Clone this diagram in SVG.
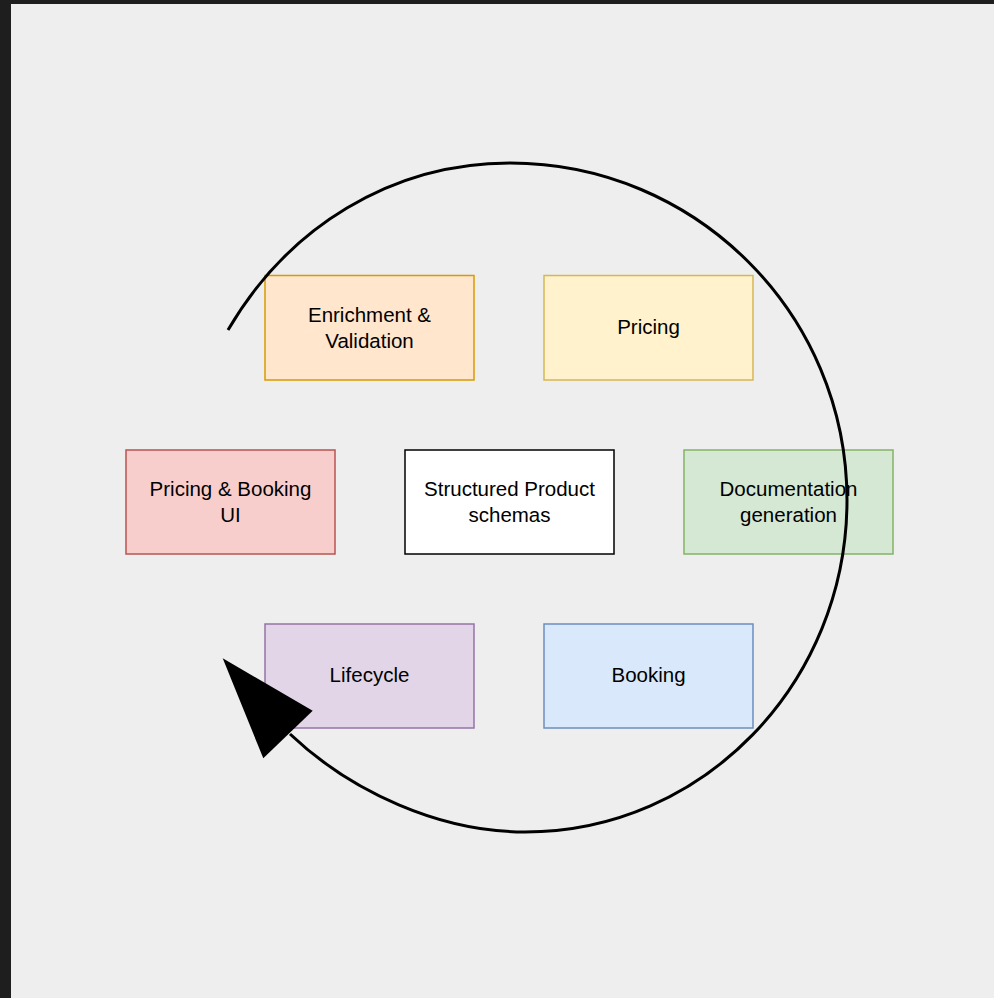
<svg xmlns="http://www.w3.org/2000/svg" width="994" height="998" viewBox="0 0 994 998">
<style>
.box{stroke-width:1.5}
.lbl{font-family:"Liberation Sans",Arial,Helvetica,sans-serif;font-size:20.5px;fill:#000;text-anchor:middle}
</style>
<rect x="0" y="0" width="994" height="998" fill="#1e1e1e"/>
<rect x="11" y="4" width="983" height="994" fill="#eeeeee"/>
<g id="enrichment"><rect class="box" x="265" y="275.5" width="209" height="104.5" fill="#ffe6cc" stroke="#d79b00"/><text class="lbl" x="369.5" y="322">Enrichment &amp;</text><text class="lbl" x="369.5" y="348">Validation</text></g>
<g id="pricing"><rect class="box" x="544" y="275.5" width="209" height="104.5" fill="#fff2cc" stroke="#d6b656"/><text class="lbl" x="648.5" y="334">Pricing</text></g>
<g id="ui"><rect class="box" x="126" y="450" width="209" height="104" fill="#f8cecc" stroke="#b85450"/><text class="lbl" x="230.5" y="496">Pricing &amp; Booking</text><text class="lbl" x="230.5" y="522">UI</text></g>
<g id="schemas"><rect class="box" x="405" y="450" width="209" height="104" fill="#ffffff" stroke="#000000"/><text class="lbl" x="509.5" y="496">Structured Product</text><text class="lbl" x="509.5" y="522">schemas</text></g>
<g id="docs"><rect class="box" x="684" y="450" width="209" height="104" fill="#d5e8d4" stroke="#82b366"/><text class="lbl" x="788.5" y="496">Documentation</text><text class="lbl" x="788.5" y="522">generation</text></g>
<g id="lifecycle"><rect class="box" x="265" y="624" width="209" height="104" fill="#e1d5e7" stroke="#9673a6"/><text class="lbl" x="369.5" y="682">Lifecycle</text></g>
<g id="booking"><rect class="box" x="544" y="624" width="209" height="104" fill="#dae8fc" stroke="#6c8ebf"/><text class="lbl" x="648.5" y="682">Booking</text></g>
<g id="connectors">
<path d="M228,330 C287.7,227.5 391.4,163 510,163 C696,163 847,314 847,500 C847,683 703,832 525,832 C440.4,832 351.3,792.2 290,734" fill="none" stroke="#000" stroke-width="3"/>
<polygon points="222.7,658.3 312.7,710.7 263.3,758.3" fill="#000"/>
</g>
</svg>
